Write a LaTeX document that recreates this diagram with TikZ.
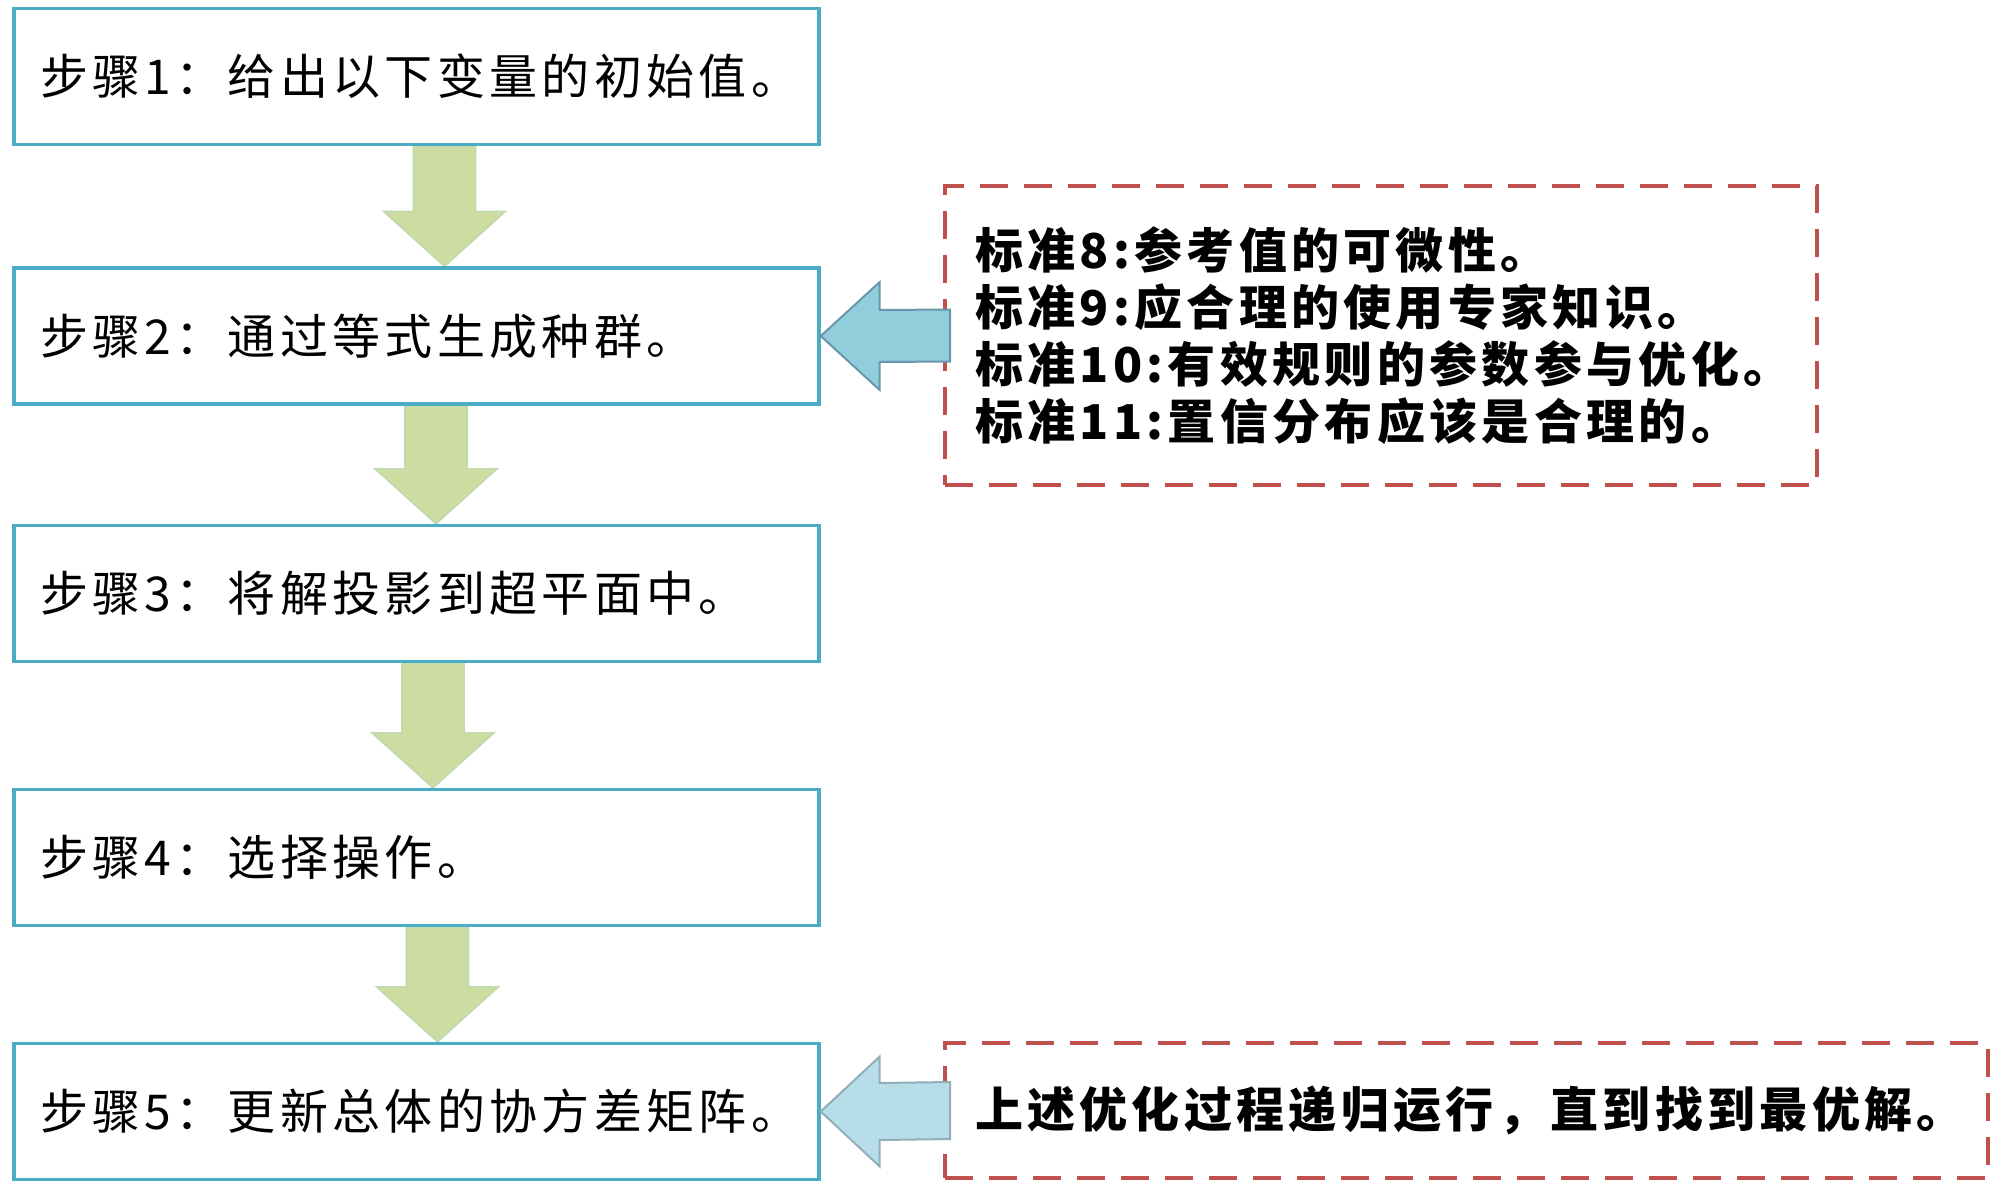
\documentclass[tikz,border=0pt]{standalone}
\usepackage{fontspec}
\setmainfont{Noto Sans CJK SC}[LetterSpace=9]
\usetikzlibrary{calc,backgrounds}

\definecolor{stepline}{RGB}{75,172,198}
\definecolor{downfill}{RGB}{205,220,160}
\definecolor{downline}{RGB}{190,218,175}
\definecolor{leftfill}{RGB}{146,205,220}
\definecolor{leftline}{RGB}{105,150,170}
\definecolor{leftfillb}{RGB}{183,221,232}
\definecolor{leftlineb}{RGB}{145,175,185}
\definecolor{critline}{RGB}{192,80,77}

\begin{document}
\begin{tikzpicture}
  [x=0.5pt,y=-0.5pt,
   stepbox/.style={draw=stepline,line width=1.7pt,minimum height=68pt,text width=376.5pt,
     inner xsep=13pt,align=left,font=\fontsize{24}{28.5}\selectfont},
   critbox/.style={draw=critline,line width=2pt,dash pattern=on 14pt off 8pt,inner xsep=15pt,
     align=left,font=\bfseries\fontsize{24}{28.5}\selectfont},
   downarr/.style={fill=downfill,draw=downline,line width=0.8pt}]
  \useasboundingbox (0,0) rectangle (2000,1189);

  \node[stepbox] (s1) at (416.5,76.5) {步骤1：给出以下变量的初始值。};
  \node[stepbox] (s2) at (416.5,336) {步骤2：通过等式生成种群。};
  \node[stepbox] (s3) at (416.5,593.5) {步骤3：将解投影到超平面中。};
  \node[stepbox] (s4) at (416.5,857.5) {步骤4：选择操作。};
  \node[stepbox] (s5) at (416.5,1111.5) {步骤5：更新总体的协方差矩阵。};

  \node[critbox,text width=406pt,minimum height=149.5pt] (c1) at (1381,335.5)
    {标准8:参考值的可微性。\\标准9:应合理的使用专家知识。\\标准10:有效规则的参数参与优化。\\标准11:置信分布应该是合理的。};
  \node[critbox,text width=491.5pt,minimum height=67.5pt] (c2) at (1466.5,1110.5)
    {上述优化过程递归运行，直到找到最优解。};

  \begin{scope}[on background layer]
  \foreach \from/\to/\cx in {s1/s2/444.5,s2/s3/436,s3/s4/433,s4/s5/437.5}
    \draw[downarr] ({\cx-31},0 |- \from.south) -- ({\cx+31},0 |- \from.south)
      -- ($({\cx+31},0 |- \to.north)+(0,-55)$) -- ($({\cx+61},0 |- \to.north)+(0,-55)$)
      -- (\cx,0 |- \to.north) -- ($({\cx-61},0 |- \to.north)+(0,-55)$)
      -- ($({\cx-31},0 |- \to.north)+(0,-55)$) -- cycle;
  \end{scope}

  \foreach \from/\to/\fc/\dc/\hh/\sh in {c1/s2/leftfill/leftline/54/26,c2/s5/leftfillb/leftlineb/55/28.5}
    \draw[fill=\fc,draw=\dc,line width=1pt] (\to.east) -- ++(59,-\hh) -- ++(0,\hh-\sh)
      -- ($(\from.west)+(7,-\sh)$) -- ($(\from.west)+(7,\sh)$) -- ($(\to.east)+(59,\sh)$)
      -- ++(0,\hh-\sh) -- cycle;
\end{tikzpicture}
\end{document}
